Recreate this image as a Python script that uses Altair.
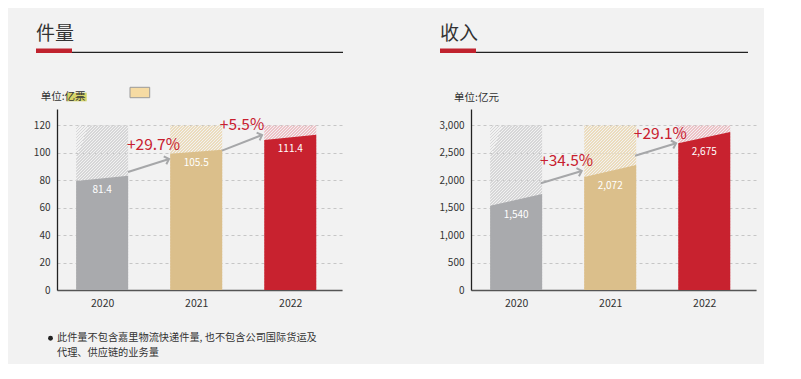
import altair as alt
import pandas as pd

# ---------------- data ----------------
years = ["2020", "2021", "2022"]
vol_values = [81.4, 105.5, 111.4]
vol_top_left = [79.5, 99.4, 109.4]
vol_top_right = [83.4, 102.3, 113.3]
vol_growth = ["+29.7%", "+5.5%"]
vol_ticks = [0, 20, 40, 60, 80, 100, 120]

rev_values = [1540, 2072, 2675]
rev_top_left = [1537, 2060, 2675]
rev_top_right = [1750, 2279, 2881]
rev_growth = ["+34.5%", "+29.1%"]
rev_ticks = [0, 500, 1000, 1500, 2000, 2500, 3000]

note_lines = ["此件量不包含嘉里物流快递件量, 也不包含公司国际货运及", "代理、供应链的业务量"]

# ---------------- annotation placement (data units) ----------------
vol_arrow_xa = [0.275, 1.274]
vol_arrow_ya = [86.1, 101.6]
vol_arrow_xb = [0.711, 1.70]
vol_arrow_yb = [95.5, 113.0]
vol_arrow_ang = [342, 339]
vol_glabel_x = [0.546, 1.487]
vol_glabel_y = [105.7, 120.3]

rev_arrow_xa = [0.262, 1.264]
rev_arrow_ya = [1945, 2449]
rev_arrow_xb = [0.697, 1.70]
rev_arrow_yb = [2170, 2675]
rev_arrow_ang = [343, 343]
rev_glabel_x = [0.536, 1.533]
rev_glabel_y = [2357, 2844]

# ---------------- styles ----------------
BG = "#f2f2f2"
bar_colors = ["#a9aaad", "#dbbf8b", "#c8222f"]
hatch_colors = ["#d6d6d7", "#ecdcbc", "#eec2c7"]
RED = "#c8202f"
ARROW = "#a6a7a9"
FONT = "Noto Sans CJK SC"
HW = 0.2765
W, H = 285, 181


def hatch(color, n=72, frac=0.45):
    clear = "rgba(242,242,242,0)"
    stops = []
    for k in range(n):
        a, b, c = k / n, (k + frac) / n, (k + 1) / n
        stops += [
            alt.GradientStop(offset=a, color=color),
            alt.GradientStop(offset=b, color=color),
            alt.GradientStop(offset=b, color=clear),
            alt.GradientStop(offset=c, color=clear),
        ]
    return alt.LinearGradient(gradient="linear", stops=stops, x1=0, y1=0, x2=0.377, y2=1.196)


def one():
    return pd.DataFrame({"k": [0]})


def panel(values, top_l, top_r, growth, ticks, ymax, fmt, lfmt, title,
          axa, aya, axb, ayb, aang, gx, gy, title_x, line_x1):
    xs = alt.Scale(domain=[-0.48, 2.55], nice=False, zero=False)
    ys = alt.Scale(domain=[0, ymax], nice=False)
    label_expr = "[" + ",".join("'%s'" % y for y in years) + "][datum.value]"
    xaxis = alt.Axis(values=[0, 1, 2], labelExpr=label_expr, title=None, domainColor="#555",
                     domainWidth=1.5, ticks=False, labelPadding=8, labelFontSize=10.5,
                     labelColor="#333", grid=False)
    yaxis = alt.Axis(values=ticks, format=fmt, title=None, domainColor="#222", domainWidth=1.3,
                     ticks=False, labelPadding=7, labelFontSize=10, labelColor="#333",
                     grid=True, gridColor="#c6c6c6", gridDash=[3, 3], gridWidth=1)
    layers = []
    top = ticks[-1]
    for i in range(3):
        d = pd.DataFrame({"xa": [i - HW], "xb": [i + HW], "y0": [0], "y1": [top]})
        layers.append(
            alt.Chart(d).mark_rect(fill=hatch(hatch_colors[i])).encode(
                x=alt.X("xa:Q", scale=xs, axis=xaxis), x2="xb:Q",
                y=alt.Y("y0:Q", scale=ys, axis=yaxis), y2="y1:Q")
        )
    rows = []
    for i, y in enumerate(years):
        rows.append({"year": y, "xp": i - HW, "top": top_l[i]})
        rows.append({"year": y, "xp": i + HW, "top": top_r[i]})
    layers.append(
        alt.Chart(pd.DataFrame(rows)).mark_area(orient="vertical", opacity=1).encode(
            x=alt.X("xp:Q", scale=xs, axis=xaxis),
            y=alt.Y("top:Q", scale=ys, axis=yaxis, stack=None),
            y2=alt.datum(0),
            color=alt.Color("year:N", scale=alt.Scale(domain=years, range=bar_colors), legend=None),
            detail="year:N")
    )
    lab = pd.DataFrame({"x": [0, 1, 2], "y": top_l, "v": values})
    layers.append(
        alt.Chart(lab).mark_text(color="white", fontSize=10, baseline="middle", dy=9).encode(
            x=alt.X("x:Q", scale=xs, axis=xaxis), y=alt.Y("y:Q", scale=ys, axis=yaxis),
            text=alt.Text("v:Q", format=lfmt))
    )
    ar = pd.DataFrame({"xa": axa, "ya": aya, "xb": axb, "yb": ayb, "ang": aang})
    layers.append(
        alt.Chart(ar).mark_rule(color=ARROW, strokeWidth=2).encode(
            x=alt.X("xa:Q", scale=xs, axis=xaxis), y=alt.Y("ya:Q", scale=ys, axis=yaxis),
            x2="xb:Q", y2="yb:Q")
    )
    layers.append(
        alt.Chart(ar).mark_point(shape="M-1,-1L0,0L-1,1", filled=False, color=ARROW,
                                 strokeWidth=2, size=70, opacity=1).encode(
            x=alt.X("xb:Q", scale=xs, axis=xaxis), y=alt.Y("yb:Q", scale=ys, axis=yaxis),
            angle=alt.Angle("ang:Q", scale=None))
    )
    gl = pd.DataFrame({"x": gx, "y": gy, "t": growth})
    layers.append(
        alt.Chart(gl).mark_text(color=RED, fontSize=15.5, baseline="middle").encode(
            x=alt.X("x:Q", scale=xs, axis=xaxis), y=alt.Y("y:Q", scale=ys, axis=yaxis), text="t:N")
    )
    # decorations
    layers.append(alt.Chart(one()).mark_text(text=title, align="left", baseline="middle",
                                              fontSize=19, color="#333").encode(
        x=alt.value(title_x), y=alt.value(-75.5)))
    layers.append(alt.Chart(one()).mark_rule(color="#222", strokeWidth=1.3).encode(
        x=alt.value(title_x + 36), x2=alt.value(line_x1), y=alt.value(-56.7)))
    layers.append(alt.Chart(one()).mark_rect(color="#c0222e").encode(
        x=alt.value(title_x), x2=alt.value(title_x + 36), y=alt.value(-60.5), y2=alt.value(-56)))
    return layers


# left panel
l_layers = panel(vol_values, vol_top_left, vol_top_right, vol_growth, vol_ticks, 132, "d", ".1f",
                 "件量", vol_arrow_xa, vol_arrow_ya, vol_arrow_xb, vol_arrow_yb,
                 vol_arrow_ang, vol_glabel_x, vol_glabel_y, -21, 286)
l_layers.append(alt.Chart(one()).mark_rect(color="#d3d05a", opacity=0.9).encode(
    x=alt.value(10), x2=alt.value(29.7), y=alt.value(-16.3), y2=alt.value(-7.7)))
l_layers.append(alt.Chart(one()).mark_text(text="单位:亿票", align="left", baseline="middle",
                                            fontSize=10.5, color="#333").encode(
    x=alt.value(-16.3), y=alt.value(-12.3)))
l_layers.append(alt.Chart(one()).mark_rect(fill="#f6dba3", stroke="#9a9a9a", strokeWidth=1).encode(
    x=alt.value(73), x2=alt.value(92.7), y=alt.value(-21.7), y2=alt.value(-11.3)))
l_layers.append(alt.Chart(one()).mark_circle(color="#222", size=24, opacity=1).encode(
    x=alt.value(-6.5), y=alt.value(229.3)))
for j, line in enumerate(note_lines):
    l_layers.append(alt.Chart(one()).mark_text(text=line, align="left", baseline="middle",
                                                fontSize=10.2, color="#333").encode(
        x=alt.value(0), y=alt.value(229.3 + 14.5 * j)))
left = alt.layer(*l_layers).properties(width=W, height=H)

# right panel
r_layers = panel(rev_values, rev_top_left, rev_top_right, rev_growth, rev_ticks, 3300, ",d", ",d",
                 "收入", rev_arrow_xa, rev_arrow_ya, rev_arrow_xb, rev_arrow_yb,
                 rev_arrow_ang, rev_glabel_x, rev_glabel_y, -31, 277)
r_layers.append(alt.Chart(one()).mark_text(text="单位:亿元", align="left", baseline="middle",
                                            fontSize=10.5, color="#333").encode(
    x=alt.value(-17), y=alt.value(-11.3)))
right = alt.layer(*r_layers).properties(width=W, height=H)

chart = alt.hconcat(left, right, spacing=129, bounds="flush").properties(
    padding={"left": 25, "top": 16, "right": 8, "bottom": 6},
    background=BG,
).configure(font=FONT).configure_view(stroke=None)

chart.save("out.html", embed_options={"renderer": "svg", "actions": False})
